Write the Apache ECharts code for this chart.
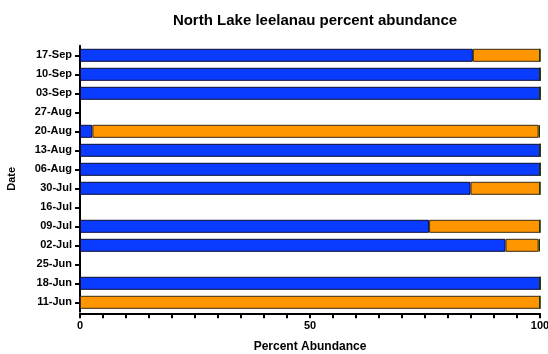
<!DOCTYPE html>
<html>
<head>
<meta charset="utf-8">
<script src="https://cdn.jsdelivr.net/npm/echarts@6/dist/echarts.min.js"></script>
<style>
  html, body { margin: 0; padding: 0; background: #fff; }
  #chart { width: 548px; height: 354px; }
</style>
</head>
<body>
<div id="chart"></div>
<script>
// Sampling dates, listed bottom to top on the category axis
const dates = ['11-Jun', '18-Jun', '25-Jun', '02-Jul', '09-Jul', '16-Jul', '30-Jul',
               '06-Aug', '13-Aug', '20-Aug', '27-Aug', '03-Sep', '10-Sep', '17-Sep'];

// Percent abundance of each group per date (null = no sample)
const blueGroup   = [0,   100, null, 92.5, 75.9, null, 84.9, 100, 100, 2.7,  null, 100, 100, 85.4];
const orangeGroup = [100, 0,   null, 7.2,  24.1, null, 15.1, 0,   0,   97.0, null, 0,   0,   14.6];
const greenGroup  = [0,   0,   null, 0.3,  0,    null, 0,    0,   0,   0.3,  null, 0,   0,   0];

const xTicks = [0, 50, 100];

const font = 'Liberation Sans, Arial, Helvetica, sans-serif';

const chart = echarts.init(document.getElementById('chart'), null, { renderer: 'canvas' });

function barSeries(name, data, color, border) {
  return {
    name: name,
    type: 'bar',
    stack: 'total',
    data: data,
    barWidth: 13,
    itemStyle: { color: color, borderColor: border, borderWidth: 1 },
    silent: true
  };
}

chart.setOption({
  animation: false,
  title: {
    text: 'North Lake leelanau percent abundance',
    left: 310,
    top: 8,
    textAlign: 'center',
    textStyle: { fontFamily: font, fontSize: 15, fontWeight: 'bold', color: '#000' }
  },
  grid: {
    left: 80, right: 8, top: 45.8, bottom: 354 - 311.8,
    containLabel: false,
    outerBoundsMode: 'none'
  },
  xAxis: {
    type: 'value',
    min: 0,
    max: 100,
    interval: 5,
    offset: 1.5,
    name: 'Percent Abundance',
    nameLocation: 'middle',
    nameGap: 27,
    nameTextStyle: { fontFamily: font, fontSize: 12, fontWeight: 'bold', color: '#000' },
    axisLine: { show: true, lineStyle: { color: '#000', width: 2 } },
    axisTick: { show: true, length: 5, lineStyle: { color: '#000', width: 2 } },
    axisLabel: {
      fontFamily: font, fontSize: 11, fontWeight: 'bold', color: '#000', margin: 7,
      formatter: v => (xTicks.indexOf(v) >= 0 ? String(v) : '')
    },
    splitLine: { show: false }
  },
  yAxis: {
    type: 'category',
    data: dates,
    boundaryGap: true,
    name: 'Date',
    nameLocation: 'middle',
    nameGap: 63,
    nameRotate: 90,
    nameTextStyle: { fontFamily: font, fontSize: 11, fontWeight: 'bold', color: '#000' },
    axisLine: { show: true, lineStyle: { color: '#000', width: 2 } },
    axisTick: { show: true, alignWithLabel: true, length: 5, lineStyle: { color: '#000', width: 2 } },
    axisLabel: { fontFamily: font, fontSize: 11, fontWeight: 'bold', color: '#000', margin: 8 },
    splitLine: { show: false }
  },
  series: [
    barSeries('blue group', blueGroup, '#0a3cff', '#0a0a30'),
    barSeries('orange group', orangeGroup, '#ff9600', '#3a2a10'),
    barSeries('green group', greenGroup, '#3a8a00', '#1a3000')
  ]
});
</script>
</body>
</html>
